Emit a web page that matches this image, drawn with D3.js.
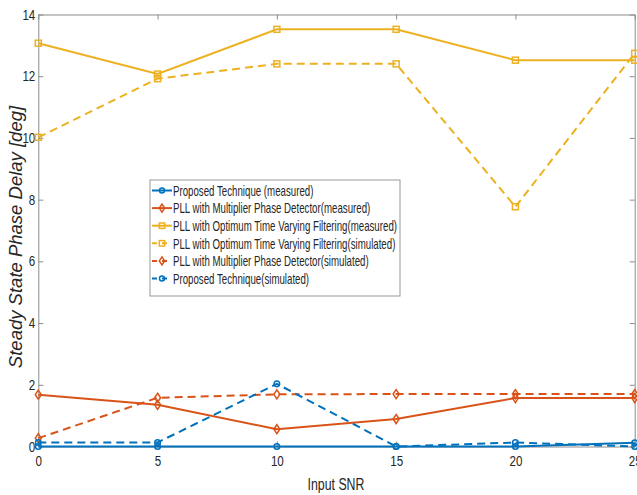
<!DOCTYPE html>
<html><head><meta charset="utf-8">
<script src="https://cdn.jsdelivr.net/npm/d3@7"></script>
<style>
body{margin:0;background:#fff;}
svg text{font-family:"Liberation Sans Narrow","Arial Narrow","Liberation Sans",Arial,sans-serif;}
</style></head>
<body><svg id="c" width="637" height="495"></svg>
<script>
const snr = [0, 5, 10, 15, 20, 25];
const blueMeasured = [0, 0, 0, 0, 0, 0.12];
const orangeMeasured = [1.68, 1.35, 0.56, 0.89, 1.57, 1.57];
const yellowMeasured = [13.07, 12.07, 13.52, 13.52, 12.52, 12.52];
const yellowSimulated = [10.02, 11.92, 12.4, 12.4, 7.77, 12.74];
const orangeSimulated = [0.27, 1.58, 1.69, 1.7, 1.7, 1.7];
const blueSimulated = [0.13, 0.13, 2.03, 0, 0.13, 0];
const xTicks = [0, 5, 10, 15, 20, 25];
const yTicks = [0, 2, 4, 6, 8, 10, 12, 14];
const seriesNames = [
  "Proposed Technique (measured)",
  "PLL with Multiplier Phase Detector(measured)",
  "PLL with Optimum Time Varying Filtering(measured)",
  "PLL with Optimum Time Varying Filtering(simulated)",
  "PLL with Multiplier Phase Detector(simulated)",
  "Proposed Technique(simulated)"
];
const BLUE = "#0072BD", ORANGE = "#D95319", YELLOW = "#EDB120";
const series = [
  {name: seriesNames[0], vals: blueMeasured, color: BLUE, marker: "circle", dash: null},
  {name: seriesNames[1], vals: orangeMeasured, color: ORANGE, marker: "diamond", dash: null},
  {name: seriesNames[2], vals: yellowMeasured, color: YELLOW, marker: "square", dash: null},
  {name: seriesNames[3], vals: yellowSimulated, color: YELLOW, marker: "square", dash: "8,5"},
  {name: seriesNames[4], vals: orangeSimulated, color: ORANGE, marker: "diamond", dash: "8,5"},
  {name: seriesNames[5], vals: blueSimulated, color: BLUE, marker: "circle", dash: "8,5"}
];

const svg = d3.select("#c");
const L = 38.3, R = 634.7, T = 14.5, B = 446.5;
const x = d3.scaleLinear().domain([0, 25]).range([L, R]);
const y = d3.scaleLinear().domain([0, 14]).range([B, T]);
const axisColor = "#8c8c8c", textColor = "#262626";

function narrow(sel, f) {
  sel.each(function() {
    const w = this.getComputedTextLength();
    d3.select(this).attr("textLength", w * f).attr("lengthAdjust", "spacingAndGlyphs");
  });
}

// axes
const gx = svg.append("g").attr("transform", `translate(0,${B})`)
  .call(d3.axisBottom(x).tickValues(xTicks).tickSizeInner(-5).tickSizeOuter(0).tickPadding(9));
const gxt = svg.append("g").attr("transform", `translate(0,${T})`)
  .call(d3.axisTop(x).tickValues(xTicks).tickSizeInner(-5).tickSizeOuter(0).tickFormat(""));
const gy = svg.append("g").attr("transform", `translate(${L},0)`)
  .call(d3.axisLeft(y).tickValues(yTicks).tickSizeInner(-5).tickSizeOuter(0).tickPadding(3));
const gyr = svg.append("g").attr("transform", `translate(${R},0)`)
  .call(d3.axisRight(y).tickValues(yTicks).tickSizeInner(-5).tickSizeOuter(0).tickFormat(""));
[gx, gxt, gy, gyr].forEach(g => {
  g.select(".domain").attr("stroke", axisColor).attr("stroke-width", 1);
  g.selectAll(".tick line").attr("stroke", axisColor);
  g.selectAll(".tick text").attr("fill", textColor).style("font-size", "14.5px");
});
narrow(gx.selectAll(".tick text"), 0.8);
narrow(gy.selectAll(".tick text"), 0.8);

const line = d3.line().x((d, i) => x(snr[i])).y(d => y(d));

function drawMarker(g, type, cx, cy, color, s) {
  if (type === "circle") {
    g.append("circle").attr("cx", cx).attr("cy", cy).attr("r", 2.8*s)
      .attr("fill", "none").attr("stroke", color).attr("stroke-width", 1.5);
  } else if (type === "square") {
    g.append("rect").attr("x", cx - 3*s).attr("y", cy - 3*s).attr("width", 6*s).attr("height", 6*s)
      .attr("fill", "none").attr("stroke", color).attr("stroke-width", 1.5);
  } else {
    g.append("path").attr("d", `M${cx},${cy-4.5*s}L${cx+3*s},${cy}L${cx},${cy+4.5*s}L${cx-3*s},${cy}Z`)
      .attr("fill", "none").attr("stroke", color).attr("stroke-width", 1.5);
  }
}

const plot = svg.append("g");
const order = [3, 2, 4, 1, 5, 0];
order.forEach(k => {
  const s = series[k];
  const g = plot.append("g");
  g.append("path").datum(s.vals).attr("d", line).attr("fill", "none")
    .attr("stroke", s.color).attr("stroke-width", 2)
    .attr("stroke-dasharray", s.dash);
  s.vals.forEach((v, i) => drawMarker(g, s.marker, x(snr[i]), y(v), s.color, 1));
});

// legend
const lg = svg.append("g");
const lx = 150, ly = 180, lw = 250, lh = 116;
lg.append("rect").attr("x", lx).attr("y", ly).attr("width", lw).attr("height", lh)
  .attr("fill", "#fff").attr("stroke", "#999").attr("stroke-width", 1);
const texts = [];
series.forEach((s, i) => {
  const cy = ly + 10.5 + i * 17.6;
  lg.append("line").attr("x1", lx + 2).attr("x2", lx + 22).attr("y1", cy).attr("y2", cy)
    .attr("stroke", s.color).attr("stroke-width", 2).attr("stroke-dasharray", s.dash ? "5,5" : null);
  drawMarker(lg, s.marker, lx + 12, cy, s.color, 0.9);
  const t = lg.append("text").attr("x", lx + 23).attr("y", cy).attr("dy", "0.36em")
    .attr("fill", textColor).style("font-size", "14.5px").text(s.name);
  texts.push(t);
});
const maxW = d3.max(texts, t => t.node().getComputedTextLength());
texts.forEach(t => narrow(t, 224 / maxW));

// labels
const xl = svg.append("text").attr("x", 336).attr("y", 490).attr("text-anchor", "middle")
  .attr("fill", textColor).style("font-size", "16px").text("Input SNR");
narrow(xl, 0.77);
svg.append("text").attr("transform", "translate(21.5,237) rotate(-90)").attr("text-anchor", "middle")
  .attr("fill", textColor).style("font-size", "18.5px").style("font-style", "italic")
  .style("font-family", "'Liberation Sans',Arial,sans-serif").text("Steady State Phase Delay [deg]");
</script></body></html>
